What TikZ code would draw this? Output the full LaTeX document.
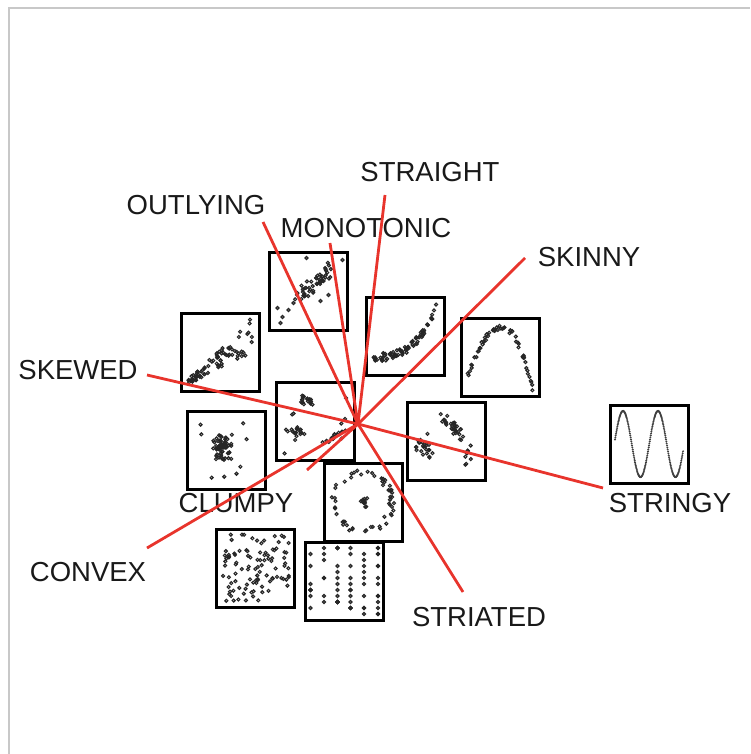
\documentclass[tikz,border=0pt]{standalone}
\usepackage{fontspec}
\setmainfont{Liberation Sans}
\definecolor{axisred}{RGB}{232,52,44}
\definecolor{framegray}{RGB}{200,200,200}
\newcommand\scdot[2]{\draw[pnt] ({#1},{#2}) circle (1.5pt);}
\begin{document}
\begin{tikzpicture}[x=1pt,y=-1pt,
    thumb/.style = {draw, line width=3pt, fill=white, minimum size=78pt, inner sep=0pt},
    lbl/.style = {font=\fontsize{27.5}{30}\selectfont, text=black!90, inner sep=0pt},
    axis/.style = {draw=axisred, line width=2.8pt},
    pnt/.style = {draw=black!85, line width=1.1pt}]
\useasboundingbox (0,0) rectangle (750,754);
\draw[framegray, line width=2pt] (9,754) -- (9,8) -- (750,8);
\pgfmathsetseed{11}
% thumbnails
\node[thumb] (outl) at (308.5,291) {};
\node[thumb] (skew) at (220,352) {};
\node[thumb] (mono) at (405,336) {};
\node[thumb] (skin) at (500,357) {};
\node[thumb] (clum) at (315.5,421.5) {};
\node[thumb] (blob) at (226,450) {};
\node[thumb] (bimo) at (446,441.5) {};
\node[thumb] (ring) at (363,502) {};
\node[thumb] (unif) at (255,568) {};
\node[thumb] (stri) at (344.5,581) {};
\node[thumb] (sine) at (649,444) {};
% outlying
\begin{scope}[shift={(outl.center)}]
  \foreach \i in {1,...,50}{
    \pgfmathsetmacro\t{rnd}
    \pgfmathsetmacro\v{rand}
    \pgfmathsetmacro\xx{-12+38*\t+4*\v+2*rand}
    \pgfmathsetmacro\yy{8-33*\t+4.5*\v+2*rand}
    \scdot{\xx}{\yy}}
  \foreach \xx/\yy in {-31/17,-26/26,-28/32,-20/19,-15/12,-2/-33,34/-31,12/10,20/4}{\scdot{\xx}{\yy}}
\end{scope}
% skewed
\begin{scope}[shift={(skew.center)}]
  \foreach \i in {1,...,80}{
    \pgfmathsetmacro\t{pow(rnd,1.3)}
    \pgfmathsetmacro\xx{-30+62*\t+2*rand}
    \pgfmathsetmacro\yy{29-46*\t+(2+16*\t)*rand}
    \scdot{\xx}{\yy}}
\end{scope}
% monotonic
\begin{scope}[shift={(mono.center)}]
  \foreach \i in {1,...,80}{
    \pgfmathsetmacro\u{rnd}
    \pgfmathsetmacro\xx{-32+64*\u}
    \pgfmathsetmacro\yy{21-52*\u*\u*\u+4*rand}
    \scdot{\xx}{\yy}}
\end{scope}
% skinny arch
\begin{scope}[shift={(skin.center)}]
  \foreach \i in {1,...,60}{
    \pgfmathsetmacro\xx{-33+66*rnd}
    \pgfmathsetmacro\yy{-30+ifthenelse(\xx<2,0.0415,0.066)*(\xx-2)*(\xx-2)+3*rand}
    \scdot{\xx}{\yy}}
\end{scope}
% clumpy
\begin{scope}[shift={(clum.center)}]
  \foreach \i in {1,...,18}{
    \scdot{-9+4*(rand+rand)}{-21+3*(rand+rand)}
    \scdot{-20+6*(rand+rand)}{12+3.5*(rand+rand)}}
  \foreach \i in {1,...,16}{
    \pgfmathsetmacro\t{rnd}
    \scdot{12+16*\t+2*rand}{20-12*\t+2*rand}}
  \foreach \i in {1,...,10}{\scdot{32*rand}{32*rand}}
\end{scope}
% single blob
\begin{scope}[shift={(blob.center)}]
  \foreach \i in {1,...,60}{\scdot{-3+6*(rand+rand)}{-3+7*(rand+rand)}}
  \foreach \i in {1,...,10}{\scdot{32*rand}{32*rand}}
\end{scope}
% two groups
\begin{scope}[shift={(bimo.center)}]
  \foreach \i in {1,...,25}{\scdot{-22+5*(rand+rand)}{5+7*(rand+rand)}}
  \foreach \i in {1,...,30}{
    \pgfmathsetmacro\t{rnd}
    \scdot{-2+20*\t+4*rand}{-24+20*\t+4*rand}}
  \foreach \i in {1,...,8}{\scdot{22+3*rand}{25*rnd}}
\end{scope}
% ring
\begin{scope}[shift={(ring.center)}]
  \foreach \i in {1,...,55}{
    \pgfmathsetmacro\a{360*rnd}
    \pgfmathsetmacro\r{29+3*rand}
    \scdot{\r*cos(\a)}{\r*sin(\a)}}
  \foreach \i in {1,...,12}{\scdot{3*(rand+rand)}{3*(rand+rand)}}
\end{scope}
% uniform
\begin{scope}[shift={(unif.center)}]
  \foreach \i in {1,...,100}{\scdot{34*rand}{34*rand}}
\end{scope}
% striated
\begin{scope}[shift={(stri.center)}]
  \foreach \cx/\n in {-34/8,-20.5/7,-7/14,6/12,19.5/10,33.5/14}{
    \foreach \j in {1,...,\n}{
      \pgfmathsetmacro\yy{-33+6*int(12*rnd)}
      \scdot{\cx}{\yy}}}
\end{scope}
% stringy
\begin{scope}[shift={(sine.center)}]
  \foreach \k in {0,...,200}{
    \pgfmathsetmacro\xx{-34+68*\k/200}
    \pgfmathsetmacro\yy{-33*cos((\xx+26)*10.2857)}
    \fill[black!75] (\xx,\yy) circle (1.1pt);}
\end{scope}
% labels
\node[lbl] (straight) at (430,172) {STRAIGHT};
\node[lbl] (outlying) at (196,205) {OUTLYING};
\node[lbl] (monotonic) at (366,228) {MONOTONIC};
\node[lbl] (skinny) at (589,257) {SKINNY};
\node[lbl] (skewed) at (78,370) {SKEWED};
\node[lbl] (stringy) at (670,503) {STRINGY};
\node[lbl] (clumpy) at (236,503) {CLUMPY};
\node[lbl] (convex) at (88,572) {CONVEX};
\node[lbl] (striated) at (479,617) {STRIATED};
% axes of the biplot
\coordinate (hub) at (358,424);
\coordinate (outlying-end) at (263,222);
\coordinate (straight-end) at (385,195);
\coordinate (monotonic-end) at (330,243);
\coordinate (skinny-end) at (525,258);
\coordinate (skewed-end) at (147,375);
\coordinate (stringy-end) at (603,488);
\coordinate (clumpy-end) at (307,470);
\coordinate (convex-end) at (147,548);
\coordinate (striated-end) at (463,592);
\foreach \e in {outlying,straight,monotonic,skinny,skewed,stringy,clumpy,convex,striated}
  \draw[axis] (hub) -- (\e-end);
\end{tikzpicture}
\end{document}
